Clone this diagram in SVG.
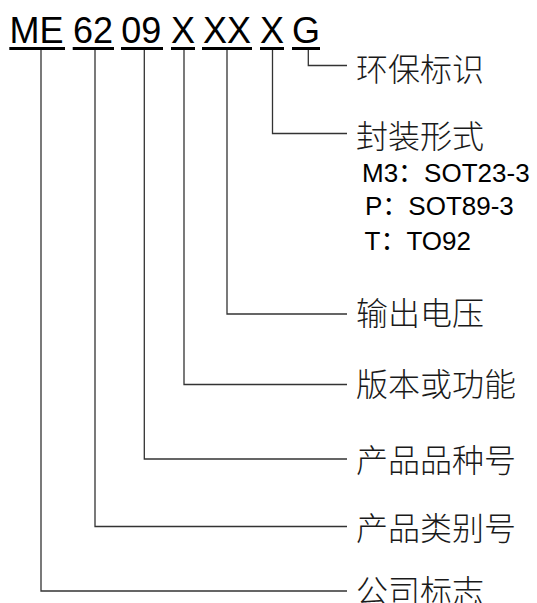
<svg xmlns="http://www.w3.org/2000/svg" width="537" height="603" viewBox="0 0 537 603">
<style>
.t{font-family:"Liberation Sans",Arial,sans-serif;font-size:36px;fill:#000}
.u{fill:#000}
.c{fill:none;stroke:#333;stroke-width:1.3}
.cn{font-family:"Noto Sans CJK SC","Noto Sans CJK JP",sans-serif;font-size:32px;font-weight:300;fill:#1a1a1a}
.p{font-family:"Liberation Sans",Arial,"Noto Sans CJK SC",sans-serif;font-size:26px;fill:#000}
</style>
<rect width="537" height="603" fill="#fff"/>
<g id="code">
<text class="t" x="9.5" y="43">ME</text><rect class="u" x="9.3" y="47" width="55.7" height="3"/>
<text class="t" x="73" y="43">62</text><rect class="u" x="72.7" y="47" width="41.3" height="3"/>
<text class="t" x="121.3" y="43">09</text><rect class="u" x="121" y="47" width="42" height="3"/>
<text class="t" x="171" y="43">X</text><rect class="u" x="171" y="47" width="24" height="3"/>
<text class="t" x="203" y="43">XX</text><rect class="u" x="202" y="47" width="50" height="3"/>
<text class="t" x="260" y="43">X</text><rect class="u" x="260" y="47" width="24" height="3"/>
<text class="t" x="292" y="43">G</text><rect class="u" x="292" y="47" width="28" height="3"/>
</g>
<g id="connectors">
<polyline class="c" points="308.3,50 308.3,65.5 347,65.5"/>
<polyline class="c" points="272.5,50 272.5,133.5 347,133.5"/>
<polyline class="c" points="227,50 227,314 347,314"/>
<polyline class="c" points="184,50 184,384.5 347,384.5"/>
<polyline class="c" points="144.3,50 144.3,459 347,459"/>
<polyline class="c" points="95,50 95,526.5 347,526.5"/>
<polyline class="c" points="41,50 41,591 347,591"/>
</g>
<g id="label-env"><text class="cn" x="356" y="80.5">环保标识</text></g>
<g id="label-package">
<text class="cn" x="356" y="147.5">封装形式</text>
<text class="p" x="362" y="182">M3：SOT23-3</text>
<text class="p" x="365" y="215">P：SOT89-3</text>
<text class="p" x="364.5" y="250">T：TO92</text>
</g>
<g id="label-voltage"><text class="cn" x="356" y="325">输出电压</text></g>
<g id="label-version"><text class="cn" x="356" y="396">版本或功能</text></g>
<g id="label-variety"><text class="cn" x="356" y="471.5">产品品种号</text></g>
<g id="label-category"><text class="cn" x="356" y="540">产品类别号</text></g>
<g id="label-company"><text class="cn" x="356" y="603">公司标志</text></g>
</svg>
